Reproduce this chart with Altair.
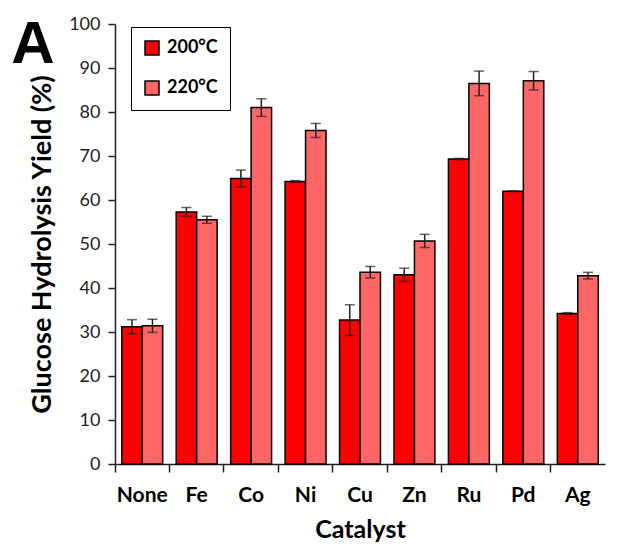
import altair as alt
import pandas as pd

catalysts = ["None", "Fe", "Co", "Ni", "Cu", "Zn", "Ru", "Pd", "Ag"]
temps = ["200°C", "220°C"]
colors = ["#FF0000", "#FF6666"]
yield_200 = [31.2, 57.3, 64.9, 64.2, 32.7, 43.0, 69.3, 62.0, 34.2]
err_200 = [1.6, 1.0, 1.9, 0.2, 3.5, 1.5, 0.15, 0.1, 0.2]
yield_220 = [31.4, 55.5, 81.0, 75.8, 43.6, 50.7, 86.5, 87.1, 42.8]
err_220 = [1.5, 0.8, 2.0, 1.6, 1.3, 1.5, 2.8, 2.1, 0.75]

rows = []
for temp, ys, es in [(temps[0], yield_200, err_200), (temps[1], yield_220, err_220)]:
    for c, y, e in zip(catalysts, ys, es):
        rows.append({"Catalyst": c, "Temp": temp, "Yield": y, "lo": y - e, "hi": y + e})
df = pd.DataFrame(rows)

FONT = "Lato"
YTITLE = "Glucose Hydrolysis Yield (%)"
yscale = alt.Scale(domain=[0, 100], nice=False)

base = alt.Chart(df).encode(
    x=alt.X(
        "Catalyst:N",
        sort=catalysts,
        scale=alt.Scale(paddingInner=0, paddingOuter=0),
        axis=alt.Axis(
            title="Catalyst",
            labelAngle=0,
            bandPosition=0,
            tickSize=8,
            tickWidth=1.5,
            tickColor="#222222",
            domainColor="#222222",
            domainWidth=1.5,
            labelFont=FONT,
            labelFontSize=21,
            labelFontWeight="bold",
            labelColor="black",
            labelPadding=12,
            titleFont=FONT,
            titleFontSize=25,
            titleFontWeight="bold",
            titleColor="black",
            titlePadding=12,
        ),
    ),
    xOffset=alt.XOffset(
        "Temp:N", sort=temps, scale=alt.Scale(paddingInner=0, paddingOuter=0.33)
    ),
)

yaxis = alt.Axis(
    values=list(range(0, 101, 10)),
    tickSize=7,
    tickWidth=1.5,
    tickColor="#222222",
    domainColor="#222222",
    domainWidth=1.5,
    grid=False,
    labelFont=FONT,
    labelFontSize=18,
    labelColor="#222222",
    labelPadding=8,
    titleFont=FONT,
    titleFontSize=27,
    titleFontWeight="bold",
    titleColor="black",
    titlePadding=12,
)

bars = base.mark_bar(stroke="black", strokeWidth=1.5).encode(
    y=alt.Y("Yield:Q", scale=yscale, axis=yaxis, title=YTITLE),
    color=alt.Color(
        "Temp:N",
        sort=temps,
        scale=alt.Scale(domain=temps, range=colors),
        legend=alt.Legend(
            title=None,
            orient="none",
            legendX=16,
            legendY=3,
            strokeColor="black",
            padding=12,
            symbolType="square",
            symbolSize=196,
            symbolStrokeColor="black",
            symbolStrokeWidth=1.5,
            labelFont=FONT,
            labelFontSize=18,
            labelFontWeight="bold",
            labelColor="black",
            rowPadding=20,
            labelOffset=6,
        ),
    ),
)

rules = base.mark_rule(color="#222222", strokeWidth=1.5).encode(
    y=alt.Y("lo:Q", scale=yscale, title=YTITLE), y2="hi:Q"
)
caps_lo = base.mark_tick(color="#222222", thickness=1.5, size=10).encode(
    y=alt.Y("lo:Q", scale=yscale, title=YTITLE)
)
caps_hi = base.mark_tick(color="#222222", thickness=1.5, size=10).encode(
    y=alt.Y("hi:Q", scale=yscale, title=YTITLE)
)

label = alt.Chart(alt.Data(values=[{"t": "A"}])).mark_text(
    text="A",
    font="Liberation Sans",
    fontSize=60,
    fontWeight="bold",
    color="black",
    align="center",
    baseline="alphabetic",
).encode(x=alt.value(-82), y=alt.value(39))

chart = (
    alt.layer(bars, rules, caps_lo, caps_hi, label)
    .properties(
        width=490,
        height=440,
        padding={"left": 107, "top": 16, "right": 13, "bottom": 80},
        autosize=alt.AutoSizeParams(type="none"),
        background="white",
    )
    .configure_view(stroke=None)
)

chart.save("out.html", embed_options={"renderer": "svg", "actions": False})
